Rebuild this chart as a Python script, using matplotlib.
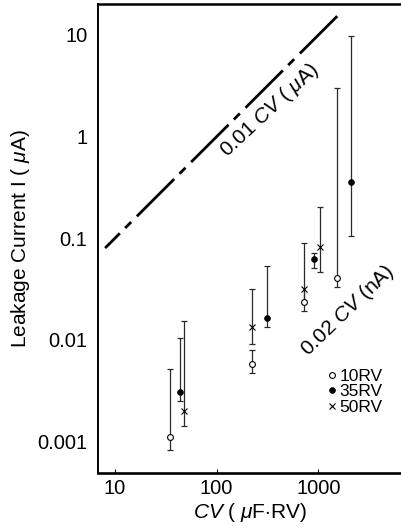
import matplotlib
matplotlib.use('Agg')
import matplotlib.pyplot as plt
import numpy as np

plt.rcParams['font.family'] = 'Liberation Sans'
plt.rcParams['mathtext.fontset'] = 'custom'
plt.rcParams['mathtext.rm'] = 'Liberation Sans'
plt.rcParams['mathtext.it'] = 'Liberation Sans:italic'
plt.rcParams['lines.scale_dashes'] = False

# CV product (uF*RV), leakage current (uA) and its spread, per rated voltage
CV_10 = [34.8, 224, 726, 1535]
I_10 = [0.00111, 0.00578, 0.0237, 0.0403]
LO_10 = [0.00082, 0.00474, 0.0192, 0.0329]
HI_10 = [0.0051, 0.00794, 0.0314, 3.0]

CV_35 = [43.6, 315, 906, 2075]
I_35 = [0.00304, 0.0165, 0.0619, 0.355]
LO_35 = [0.00252, 0.0135, 0.0506, 0.105]
HI_35 = [0.0103, 0.053, 0.072, 9.8]

CV_50 = [48.0, 224, 726, 1037]
I_50 = [0.0020, 0.0135, 0.0314, 0.0824]
LO_50 = [0.00143, 0.0091, 0.0237, 0.0468]
HI_50 = [0.0153, 0.0314, 0.0904, 0.201]

LABELS = ['10RV', '35RV', '50RV']

# guide line I = 0.01 CV
GUIDE_CV = np.array([8.0, 1600.0])
GUIDE_K = 0.01

XTICKS = [10, 100, 1000]
YTICKS = [0.001, 0.01, 0.1, 1, 10]
YTICKLABELS = ['0.001', '0.01', '0.1', '1', '10']

series = [
    (CV_10, I_10, LO_10, HI_10, dict(marker='o', mfc='white', mec='k', ms=4.2, mew=0.8)),
    (CV_35, I_35, LO_35, HI_35, dict(marker='o', mfc='k', mec='k', ms=4.2, mew=0.5)),
    (CV_50, I_50, LO_50, HI_50, dict(marker='x', mec='k', ms=4, mew=0.8)),
]

fig = plt.figure(figsize=(4.02, 5.29), dpi=100)
ax = fig.add_axes([0.243, 0.1068, 0.757, 0.8847])
ax.set_xscale('log')
ax.set_yscale('log')

# all markers, used to hide caps where two series share one bar
all_pts = [(c, v) for cv, iv, _, _, _ in series for c, v in zip(cv, iv)]

bar_color = '#2a2a2a'
for (cv, iv, lo, hi, style), lab in zip(series, LABELS):
    ax.vlines(cv, lo, hi, colors=bar_color, lw=0.9, zorder=2)
    for c, v, l, h in zip(cv, iv, lo, hi):
        for end in (l, h):
            shared = any(np.isclose(c, pc) and np.isclose(end, pv, rtol=0.02)
                         for pc, pv in all_pts if pv != v)
            if not shared:
                ax.plot(c, end, ls='none', marker='_', ms=4.8, mew=0.9,
                        color=bar_color, zorder=2)
    ax.plot(cv, iv, ls='none', label=lab, zorder=3, **style)

# long dash / short dash guide
ax.plot(GUIDE_CV, GUIDE_K * GUIDE_CV, color='k', lw=2.0,
        ls=(23, (38, 5.4, 6.1, 5.8)), solid_capstyle='butt', zorder=2)

ax.text(334, 1.83, r'0.01 $CV$ ( $\mu$A)', fontsize=15, rotation=43,
        rotation_mode='anchor', ha='center', va='center')
ax.text(1955, 0.0192, r'0.02 $CV$ (nA)', fontsize=15, rotation=44,
        rotation_mode='anchor', ha='center', va='center')

ax.legend(loc='upper left', bbox_to_anchor=(0.757, 0.222), frameon=False,
          fontsize=12.5, handlelength=0.45, handletextpad=0.2,
          labelspacing=0.02, borderpad=0, borderaxespad=0)

ax.set_xlim(6.76, 6640)
ax.set_ylim(4.94e-4, 19.96)
ax.set_xticks(XTICKS)
ax.set_xticklabels([str(t) for t in XTICKS])
ax.set_yticks(YTICKS)
ax.set_yticklabels(YTICKLABELS)
ax.minorticks_off()
ax.tick_params(axis='x', direction='in', length=3, width=0.75, pad=5,
               labelsize=14.5)
ax.tick_params(axis='y', length=0, pad=7.5, labelsize=14.5)

ax.spines['right'].set_visible(False)
ax.spines['left'].set_linewidth(1.4)
ax.spines['top'].set_linewidth(1.8)
ax.spines['bottom'].set_linewidth(1.9)

ax.set_xlabel(r'$CV$ ( $\mu$F$\cdot$RV)', fontsize=15, labelpad=2)
ax.set_ylabel(r'Leakage Current I ( $\mu$A)', fontsize=15, labelpad=4)

fig.savefig('out.png', dpi=100)
